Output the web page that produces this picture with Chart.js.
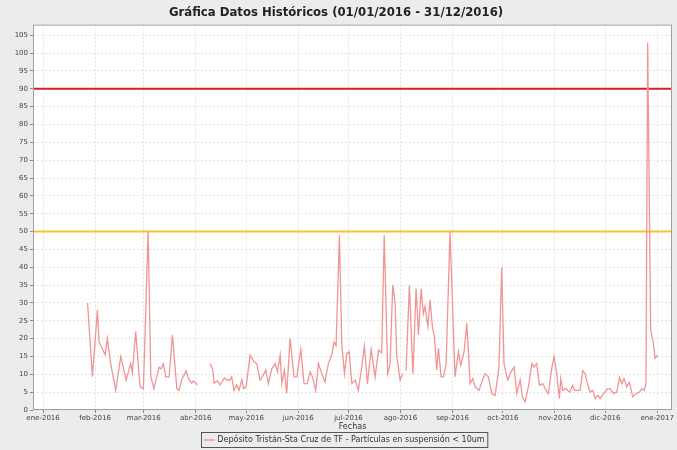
<!DOCTYPE html>
<html>
<head>
<meta charset="utf-8">
<script src="https://cdn.jsdelivr.net/npm/chart.js@4.4.1/dist/chart.umd.min.js"></script>
<style>
  html, body { margin: 0; padding: 0; background: #ececec; }
  #wrap { width: 677px; height: 450px; }
</style>
</head>
<body>
<div id="wrap"><canvas id="chart" width="677" height="450"></canvas></div>
<script>
// day offsets from 01/01/2016 and the matching PM10 readings (null = no data)
const days = [
  26.5, 29.4, 32.4, 33.4, 37, 38.3, 40.3, 43.3, 46.3, 49.5, 52.2, 53.2, 55.2, 57.8, 59.8,
  62.6, 64.2, 66.1, 69.1, 70.3, 71.7, 73.1, 75.1, 77.1, 79.7, 81, 82.6, 85.2, 87, 88.6, 89.6, 92,
  95,
  99.5, 101, 102, 104, 105.5, 108, 109.5, 111.4, 112.4, 113.8, 115.4, 116.8, 118.4, 119.4, 121,
  123.4, 125.7, 127.3, 129.3, 131.3, 132.7, 134.3, 136.3, 138.3, 139.7, 141.3, 142.3, 143.8,
  145.2, 147.2, 149.6, 151.2, 153.6, 155.5, 157.5, 159.1, 160.5, 162.5, 164.1, 166.1, 168,
  170, 172, 173.4, 174.6, 176.6, 178, 179.6, 181, 182.4, 184, 186, 187.9, 189.9, 191.5, 193.3,
  195.5, 197.9, 199.9, 201.8, 203.3, 205.4, 206.8, 208.4, 209.8, 210.8, 212.8, 214.4,
  215.3,
  216.3, 218.3, 220.4, 222.3, 223.7, 225.3, 226.6, 227.6, 229.3, 230.6, 232, 233.2, 234.6,
  235.6, 237.2, 238.6, 240.2, 242.5, 245.5, 247.5, 248.9, 250.9, 252.5, 254.5, 256.1, 257.5,
  259.8, 261.4, 263.4, 265.4, 267.4, 269.4, 271.7, 273.3, 274.7, 276.9, 278.9, 280.7, 282.3,
  284.3, 285.6, 287.2, 289.2, 291.3, 292.6, 294.2, 295.8, 297.8, 299.2, 301.1, 303.1, 304.5,
  306.1, 307.7, 308.5, 309.7, 311.7, 313.7, 315.6, 316.6, 320, 321.6, 323, 324.4, 326, 327.6,
  329, 330.5, 332, 334, 336.3, 337.9, 339.9, 341.9, 343.5, 344.9, 346.2, 347.8, 349.4, 351.4,
  353.4, 355.4, 356.8, 358.2, 359.3, 360.3, 362.1, 363.7, 364.7, 366.2
];
const pm10 = [
  30, 9.3, 28, 19, 15.5, 20, 13, 5.5, 15, 8.4, 13, 10.4, 22, 6.5, 6,
  50, 9.3, 6, 12, 11.5, 13, 9.3, 9.3, 21, 6, 5.5, 8.4, 11, 8.4, 7.5, 8.2, 7,
  null,
  13, 11.5, 7.5, 8.2, 7, 9, 8.4, 8.4, 9.3, 5.5, 7, 5.5, 8.4, 6, 6.5,
  15.4, 13.5, 13, 8.4, 9.8, 11.2, 7.4, 11.6, 13, 10.7, 15.4, 7.4, 11.2,
  4.6, 20, 9.3, 9.3, 17, 7.4, 7.4, 10.7, 9.3, 5.5, 13, 10.2, 7.8,
  13, 15.4, 19, 18, 49, 18.6, 10.2, 15.8, 16.3, 7.4, 8.4, 5.5, 12, 18, 7.4,
  17, 9.3, 16.8, 16, 49, 10.2, 13, 35, 30, 15, 8.4, 10.2,
  null,
  11, 35, 10.2, 34, 21, 34, 27, 29, 23.4, 30.8, 23.4, 20.6, 11.2,
  17.3, 9.3, 9.3, 13, 50, 9.3, 16.3, 12.6, 16.3, 24.3, 7.4, 8.8, 6.5,
  5.5, 7.8, 10.2, 9.3, 4.6, 4.1, 12, 40, 13, 8.4, 10.7, 12, 4.6,
  8.4, 3.7, 2.3, 6.5, 13, 12, 13, 6.9, 7.4, 6, 4.6, 11.6, 15,
  10.2, 3.2, 8.8, 5.5, 6, 5, 6.9, 5.5, 5.5, 11, 10.2, 7.4, 5, 5.5,
  3.2, 4.1, 3.2, 4.6, 6, 6, 4.6, 5, 9.1, 7.4, 8.8, 6.5, 7.8, 3.7,
  4.6, 5, 6, 5.5, 7.4, 103, 22.4, 18.6, 14.5, 15.4
];

const monthDays = [0, 31, 60, 91, 121, 152, 182, 213, 244, 274, 305, 335, 366];
const monthLabels = ['ene-2016', 'feb-2016', 'mar-2016', 'abr-2016', 'may-2016', 'jun-2016',
  'jul-2016', 'ago-2016', 'sep-2016', 'oct-2016', 'nov-2016', 'dic-2016', 'ene-2017'];
const yTicks = [0, 5, 10, 15, 20, 25, 30, 35, 40, 45, 50, 55, 60, 65, 70, 75, 80, 85, 90, 95, 100, 105];
const limitRed = 90;
const limitYellow = 50;

const X_MIN = -6, X_MAX = 374.8;
const FONT = 'DejaVu Sans';

// grey page, white plot, outline round the plot and the legend item
const frame = {
    id: 'frame',
    afterLayout(chart) {
        // legend sits a little right of centre in the original
        chart.legend.left += 9;
        chart.legend.right += 9;
    },
    beforeDraw(chart) {
        const { ctx, chartArea: a } = chart;
        ctx.save();
        ctx.fillStyle = '#ececec';
        ctx.fillRect(0, 0, chart.width, chart.height);
        ctx.fillStyle = '#ffffff';
        ctx.fillRect(a.left, a.top, a.right - a.left, a.bottom - a.top);
        ctx.restore();
    },
    afterDraw(chart) {
        const { ctx, chartArea: a } = chart;
        ctx.save();
        ctx.strokeStyle = '#a0a0a0';
        ctx.lineWidth = 1;
        ctx.strokeRect(a.left + 0.5, a.top + 0.5, a.right - a.left - 1, a.bottom - a.top - 1);
        const box = chart.legend.legendHitBoxes[0];
        if (box) {
            ctx.strokeStyle = '#555555';
            ctx.strokeRect(Math.round(box.left) - 3.5, Math.round(box.top) - 3.5, box.width + 7, box.height + 7);
        }
        ctx.restore();
    }
};

new Chart(document.getElementById('chart'), {
    type: 'line',
    data: {
        datasets: [
            {
                label: 'Depósito Tristán-Sta Cruz de TF - Partículas en suspensión < 10um',
                data: days.map((d, i) => ({ x: d, y: pm10[i] })),
                borderColor: '#f29494',
                backgroundColor: '#f29494',
                borderWidth: 1.3,
                pointRadius: 0,
                tension: 0,
                spanGaps: false
            },
            {
                label: 'limite90',
                data: [{ x: X_MIN, y: limitRed }, { x: X_MAX, y: limitRed }],
                borderColor: '#d02222',
                borderWidth: 2,
                pointRadius: 0
            },
            {
                label: 'limite50',
                data: [{ x: X_MIN, y: limitYellow }, { x: X_MAX, y: limitYellow }],
                borderColor: '#f4c430',
                borderWidth: 2,
                pointRadius: 0
            }
        ]
    },
    options: {
        responsive: false,
        animation: false,
        layout: { padding: { left: 0, right: 5, top: 0, bottom: -4 } },
        plugins: {
            title: {
                display: true,
                text: 'Gráfica Datos Históricos (01/01/2016 - 31/12/2016)',
                color: '#222222',
                font: { family: 'DejaVu Sans Condensed, DejaVu Sans', size: 13, weight: 'bold' },
                padding: { top: 5, bottom: 4 }
            },
            legend: {
                position: 'bottom',
                labels: {
                    filter: item => item.datasetIndex === 0,
                    usePointStyle: true,
                    pointStyle: 'line',
                    boxWidth: 10,
                    color: '#333333',
                    font: { family: FONT, size: 8 },
                    padding: 4
                }
            },
            tooltip: { enabled: false }
        },
        scales: {
            x: {
                type: 'linear',
                min: X_MIN,
                max: X_MAX,
                afterBuildTicks: scale => { scale.ticks = monthDays.map(v => ({ value: v })); },
                afterFit: scale => { scale.height = 22; },
                ticks: {
                    autoSkip: false,
                    maxRotation: 0,
                    padding: 1,
                    color: '#444444',
                    font: { family: FONT, size: 7 },
                    callback: (v, i) => monthLabels[i]
                },
                grid: { color: '#e2e2e2', tickLength: 3, tickColor: '#888888' },
                border: { display: false, dash: [2, 2] },
                title: {
                    display: true,
                    text: 'Fechas',
                    color: '#333333',
                    font: { family: FONT, size: 8 },
                    padding: 0
                }
            },
            y: {
                min: 0,
                max: 108,
                afterBuildTicks: scale => { scale.ticks = yTicks.map(v => ({ value: v })); },
                afterFit: scale => { scale.width = 33; },
                ticks: {
                    padding: 2,
                    color: '#444444',
                    font: { family: FONT, size: 7 }
                },
                grid: { color: '#e2e2e2', tickLength: 3, tickColor: '#888888' },
                border: { display: false, dash: [2, 2] }
            }
        }
    },
    plugins: [frame]
});
</script>
</body>
</html>
